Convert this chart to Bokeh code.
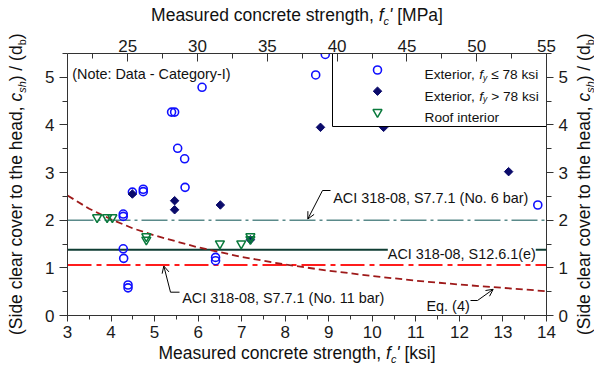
import math
from bokeh.plotting import figure
from bokeh.models import Range1d, LinearAxis, SingleIntervalTicker, Label, Arrow, OpenHead, Div
from bokeh.layouts import column, row
from bokeh.embed import file_html
from bokeh.resources import INLINE

# ---------------- data ----------------
ext_low_x = [5.39, 5.46, 6.09, 5.53, 5.69, 5.70, 4.74, 4.74, 4.49, 4.28, 4.28, 4.28, 4.29,
             4.39, 4.39, 6.40, 6.40, 8.70, 8.92, 13.80]
ext_low_y = [4.27, 4.27, 4.79, 3.51, 3.29, 2.69, 2.65, 2.60, 2.59, 2.13, 2.08, 1.40, 1.20,
             0.64, 0.58, 1.22, 1.15, 5.05, 5.48, 2.32]

ext_high_x = [4.49, 5.46, 5.46, 6.51, 8.81, 10.26, 13.13, 7.20]
ext_high_y = [2.55, 2.41, 2.22, 2.32, 3.95, 3.95, 3.02, 1.59]

roof_x = [3.68, 3.91, 4.03, 4.81, 4.81, 6.50, 6.99, 7.20, 7.20]
roof_y = [2.06, 2.06, 2.06, 1.66, 1.59, 1.51, 1.51, 1.66, 1.60]

eq4_x = [3, 3.5, 4, 4.5, 5, 6, 7, 8, 9, 10, 11, 12, 13, 14]
eq4_y = [2.52, 2.24, 2.02, 1.83, 1.68, 1.43, 1.23, 1.07, 0.94, 0.83, 0.73, 0.65, 0.58, 0.51]

ref_x = [3, 14]
aci_no6_y = [2.0, 2.0]
aci_s1261_y = [1.38, 1.38]
aci_no11_y = [1.06, 1.06]

ksi_range = [3, 14]
mpa_range = [20.684, 55]
ratio_range = [0, 5.5]

legend_labels = ["Exterior, ", "Roof interior"]

# ---------------- layout ----------------
FL, FT, FW, FH = 67, 53, 479, 262          # frame position in the page
LW, RW, TH, BH = 30, 22, 28, 22            # title strips around the plot
PAGE_W, PAGE_H = 594, 369
FONT = "Liberation Sans"


def X(px):
    return ksi_range[0] + (px - FL) / FW * (ksi_range[1] - ksi_range[0])


def Y(py):
    return ratio_range[1] - (py - FT) / FH * (ratio_range[1] - ratio_range[0])


WID = {' ': 278, '(': 333, ')': 333, '/': 278, ',': 278, "'": 191, '[': 278, ']': 278,
       '-': 333, '.': 278, ':': 278, '≤': 549, '>': 584,
       'A': 667, 'C': 722, 'D': 722, 'E': 667, 'I': 278, 'M': 833, 'N': 722, 'P': 667,
       'R': 722, 'S': 667,
       'a': 556, 'b': 556, 'c': 500, 'd': 556, 'e': 556, 'f': 278, 'g': 556, 'h': 556,
       'i': 222, 'k': 500, 'l': 222, 'm': 833, 'n': 556, 'o': 556, 'p': 556, 'r': 333,
       's': 500, 't': 278, 'u': 556, 'v': 500, 'y': 500, 'x': 500}


def tw(s, size):
    return sum(WID.get(ch, 556) for ch in s) / 1000.0 * size


p = figure(frame_width=FW, frame_height=FH,
           x_range=Range1d(*ksi_range), y_range=Range1d(*ratio_range),
           output_backend="svg", toolbar_location=None,
           min_border_left=FL - LW, min_border_top=FT - TH,
           min_border_right=PAGE_W - RW - FL - FW, min_border_bottom=PAGE_H - BH - FT - FH,
           background_fill_color="white", border_fill_color="white")
p.outline_line_color = None
p.xgrid.visible = False
p.ygrid.visible = False
p.extra_x_ranges = {"mpa": Range1d(*mpa_range)}

AX = "#333333"


def style_axis(ax, tin, tout, mtin, mtout, standoff):
    ax.axis_line_color = AX
    ax.major_tick_line_color = AX
    ax.minor_tick_line_color = AX
    ax.major_tick_in = tin
    ax.major_tick_out = tout
    ax.minor_tick_in = mtin
    ax.minor_tick_out = mtout
    ax.major_label_standoff = standoff
    ax.major_label_text_font = FONT
    ax.major_label_text_font_size = "17px"
    ax.major_label_text_color = "#1a1a1a"


bottom = p.below[0]
bottom.ticker = SingleIntervalTicker(interval=1, num_minor_ticks=2)
style_axis(bottom, 0, 6, 0, 4, 4)

left = p.left[0]
left.ticker = SingleIntervalTicker(interval=1, num_minor_ticks=2)
style_axis(left, 0, 8, 0, 5, 5)

right = LinearAxis(ticker=SingleIntervalTicker(interval=1, num_minor_ticks=2))
style_axis(right, 0, 7, 0, 5, 5)
p.add_layout(right, "right")

top = LinearAxis(x_range_name="mpa", ticker=SingleIntervalTicker(interval=5, num_minor_ticks=2))
style_axis(top, 8, 0, 5, 0, 2)
p.add_layout(top, "above")

# ---------------- reference lines ----------------
p.line(ref_x, aci_no6_y, line_color="#5a8a8a", line_width=1.6, line_dash="26 4 3 4")
p.line(ref_x, aci_s1261_y, line_color="#0f3d33", line_width=2)
p.line(ref_x, aci_no11_y, line_color="#ff1c1c", line_width=2, line_dash="24 5 5 5")
p.line(eq4_x, eq4_y, line_color="#9e1a1a", line_width=1.8, line_dash="7 4")

# ---------------- data points ----------------
BLUE = "#1010ff"
NAVY = "#0b0b6b"
GREEN = "#0a7a3c"
p.scatter(ext_low_x, ext_low_y, marker="circle", size=8, fill_color=None,
          line_color=BLUE, line_width=1.6)
p.scatter(ext_high_x, ext_high_y, marker="square", angle=math.pi / 4, size=6,
          fill_color=NAVY, line_color=NAVY, line_width=1)
p.scatter(roof_x, roof_y, marker="inverted_triangle", size=9, fill_color=None,
          line_color=GREEN, line_width=1.5)

# ---------------- legend (custom) ----------------
p.quad(left=[X(332)], right=[X(546)], top=[Y(53)], bottom=[Y(126)],
       fill_color="white", line_color="black", line_width=1)
p.scatter([X(377)], [Y(69.5)], marker="circle", size=8, fill_color=None,
          line_color=BLUE, line_width=1.6)
p.scatter([X(377)], [Y(90.7)], marker="square", angle=math.pi / 4, size=6,
          fill_color=NAVY, line_color=NAVY)
p.scatter([X(377)], [Y(111.7)], marker="inverted_triangle", size=9, fill_color=None,
          line_color=GREEN, line_width=1.5)


def lab(text, px, py, size, style="normal", bg=None):
    lead = len(text) - len(text.lstrip(" "))
    if lead:
        px += tw(text[:lead], size)
        text = text.lstrip(" ")
    kw = dict(x=X(px), y=Y(py), text=text, text_font=FONT, text_font_size=f"{size:.2f}px",
              text_font_style=style, text_color="#111111", text_align="left",
              text_baseline="alphabetic")
    if bg:
        kw["background_fill_color"] = bg
    p.add_layout(Label(**kw))


def runs(parts, px, py, size):
    for text, kind in parts:
        sub = kind in ("s", "si")
        s = size * 0.62 if sub else size
        style = "italic" if kind in ("i", "si") else "normal"
        shift = 0.22 * size if sub else 0.0
        lab(text, px, py + shift, s, style)
        px += tw(text, s)


def runs_len(parts, size):
    return sum(tw(t, size * 0.62 if k in ("s", "si") else size) for t, k in parts)


LS = 13.7
runs([(legend_labels[0], "n"), ("f", "i"), ("y", "si"), (" ≤ 78 ksi", "n")], 424, 74.3, LS)
runs([(legend_labels[0], "n"), ("f", "i"), ("y", "si"), (" > 78 ksi", "n")], 424, 95.6, LS)
runs([(legend_labels[1], "n")], 424, 116.6, LS)

# ---------------- annotations ----------------
NS = 14.4
lab("(Note: Data - Category-I)", 71.7, 73.3, NS)
lab("ACI 318-08, S7.7.1 (No. 6 bar)", 332.7, 197, NS)
lab("ACI 318-08, S12.6.1(e)", 387.3, 253.5, NS, bg="white")
lab("ACI 318-08, S7.7.1 (No. 11 bar)", 181.7, 297, NS)
lab("Eq. (4)", 426, 305.2, NS)


def leader(p1, p2, tip):
    p.add_layout(Arrow(end=None, x_start=X(p1[0]), y_start=Y(p1[1]), x_end=X(p2[0]), y_end=Y(p2[1]),
                       line_color="black", line_width=1))
    p.add_layout(Arrow(end=OpenHead(size=7, line_width=1, line_color="black"),
                       x_start=X(p2[0]), y_start=Y(p2[1]), x_end=X(tip[0]), y_end=Y(tip[1]),
                       line_color="black", line_width=1))


leader((330, 190), (322, 190), (307.3, 218.5))
leader((179, 291.7), (170, 291.7), (163.3, 265.5))
leader((470, 300), (477, 300), (492.7, 288.8))

# ---------------- axis titles (HTML strips around the plot) ----------------
AS = 17.5
ASC = 0.8465 * AS          # baseline offset from line-box top with line-height 1
SUBPX = AS * 0.62
SUBDY = 0.22 * AS


def sub(t, italic=True):
    st = "italic" if italic else "normal"
    return (f'<span style="font-size:{SUBPX:.2f}px;font-style:{st};position:relative;'
            f'top:{SUBDY:.2f}px;">{t}</span>')


def html_text(inner, left_px, top_px, rotate=False):
    rot = "transform:rotate(-90deg);transform-origin:0 0;" if rotate else ""
    return (f'<div style="position:relative;left:{left_px:.2f}px;top:{top_px:.2f}px;'
            f'white-space:nowrap;font-family:\'{FONT}\';font-size:{AS}px;line-height:1;'
            f'color:#111111;width:max-content;{rot}">{inner}</div>')


x_title_parts = [("Measured concrete strength, ", "n"), ("f", "i"), ("c", "si"), ("'", "i"), (" [ksi]", "n")]
x_len = runs_len(x_title_parts, AS) + tw(" [MPa]", AS) - tw(" [ksi]", AS)
xb_inner = "Measured concrete strength, <i>f</i>" + sub("c") + "<i>'</i> [ksi]"
xt_inner = "Measured concrete strength, <i>f</i>" + sub("c") + "<i>'</i> [MPa]"
y_parts = [("(Side clear cover to the head, ", "n"), ("c", "i"), ("sh", "si"),
           (") / (d", "n"), ("b", "s"), (")", "n")]
y_len = runs_len(y_parts, AS)
y_inner = "(Side clear cover to the head, <i>c</i>" + sub("sh") + ") / (d" + sub("b", False) + ")"

xb_len = runs_len(x_title_parts, AS)
top_div = Div(text=html_text(xt_inner, 297 - x_len / 2, 21.5 - ASC), width=PAGE_W, height=TH,
              margin=0, styles={"overflow": "visible"})
bottom_div = Div(text=html_text(xb_inner, 297 - xb_len / 2, 360.0 - ASC - (PAGE_H - BH)),
                 width=PAGE_W, height=BH, margin=0, styles={"overflow": "visible"})
y_start = 184 + y_len / 2 - TH
left_div = Div(text=html_text(y_inner, 23 - ASC, y_start, rotate=True), width=LW,
               height=PAGE_H - TH - BH, margin=0, styles={"overflow": "visible"})
right_div = Div(text=html_text(y_inner, 590.5 - ASC - (PAGE_W - RW), y_start, rotate=True),
                width=RW, height=PAGE_H - TH - BH, margin=0, styles={"overflow": "visible"})

page = column(top_div, row(left_div, p, right_div, spacing=0), bottom_div, spacing=0)

open("out.html", "w").write(file_html(page, INLINE))
